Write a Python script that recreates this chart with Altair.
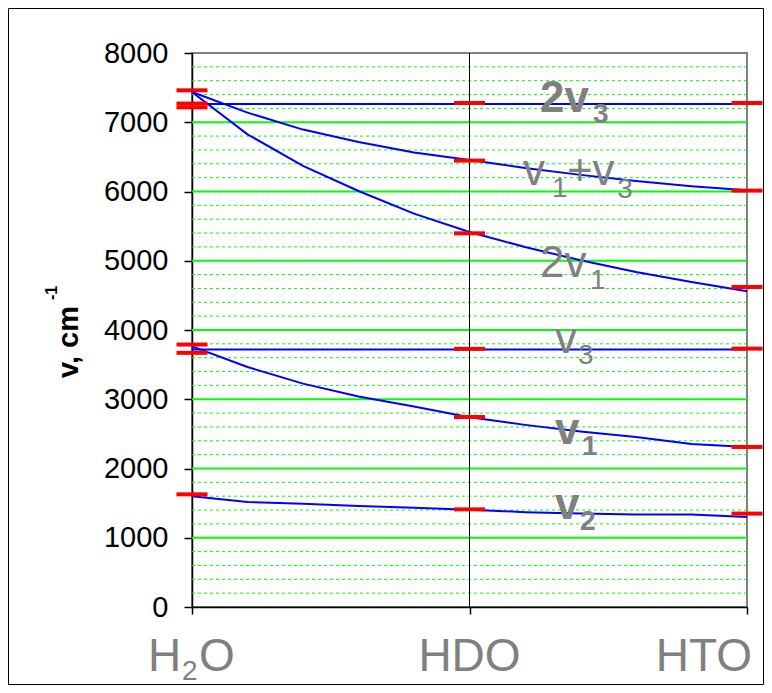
import altair as alt
import pandas as pd

# ---------------- data ----------------
t_pos = [0.0, 0.2, 0.4, 0.6, 0.8, 1.0, 1.2, 1.4, 1.6, 1.8, 2.0]
s_2v3 = [7265, 7265, 7265, 7265, 7265, 7265, 7265, 7265, 7265, 7265, 7265]
s_v1v3 = [7437, 7139, 6894, 6715, 6562, 6455, 6340, 6240, 6150, 6075, 6017]
s_2v1 = [7437, 6826, 6370, 6007, 5681, 5415, 5199, 5006, 4838, 4693, 4560]
s_v3 = [3718, 3718, 3718, 3718, 3718, 3718, 3718, 3718, 3718, 3718, 3718]
s_v1 = [3763, 3466, 3226, 3040, 2895, 2740, 2630, 2535, 2455, 2355, 2310]
s_v2 = [1599, 1516, 1490, 1460, 1432, 1406, 1370, 1350, 1337, 1334, 1300]

mol_t = [0, 1, 2]
mol_names = ["H2O", "HDO", "HTO"]
red_h2o = [7461, 7270, 7215, 3790, 3670, 1627]
red_hdo = [7278, 6446, 5396, 3728, 2744, 1410]
red_hto = [7278, 6013, 4621, 3731, 2311, 1349]

y_ticks = [0, 1000, 2000, 3000, 4000, 5000, 6000, 7000, 8000]
major_grid = [1000, 2000, 3000, 4000, 5000, 6000, 7000]
minor_grid = [v for v in range(200, 8000, 200) if v % 1000 != 0]

# label pieces: (text, t, value)
big_normal = [("v", 1.193, 6089), ("+v", 1.351, 6089), ("2v", 1.254, 4765), ("v", 1.308, 3664)]
sub_normal = [("1", 1.297, 5917), ("3", 1.532, 5902), ("1", 1.434, 4598), ("3", 1.391, 3505)]
big_bold = [("2v", 1.254, 7141), ("v", 1.308, 2360), ("v", 1.308, 1277)]
sub_bold = [("3", 1.445, 6982), ("1", 1.405, 2191), ("2", 1.398, 1108)]

W, H = 555, 554
FONT = "Liberation Sans"
GRAY = "#808080"

xs = alt.Scale(domain=[0, 2], nice=False, zero=False)
ys = alt.Scale(domain=[0, 8000], nice=False, zero=False)

AX_X = alt.Axis(values=mol_t, labels=False, title=None, grid=False,
                tickSize=7, tickColor="black", tickWidth=1.5,
                domainColor="black", domainWidth=1.5)
AX_Y = alt.Axis(values=y_ticks, format="d", title=None, grid=False,
                labelFont=FONT, labelFontSize=29, labelColor="black",
                labelPadding=16, tickSize=8, tickColor="black",
                tickWidth=1.5, domainColor="black", domainWidth=1.5)


def X(field):
    return alt.X(field, scale=xs, axis=AX_X)


def Y(field):
    return alt.Y(field, scale=ys, axis=AX_Y)


# ---------------- tables ----------------
series = {"2v3": s_2v3, "v1+v3": s_v1v3, "2v1": s_2v1, "v3": s_v3, "v1": s_v1, "v2": s_v2}
lines_df = pd.DataFrame(
    [{"series": k, "t": t, "v": v} for k, vals in series.items() for t, v in zip(t_pos, vals)]
)
red_df = pd.DataFrame(
    [{"t": mol_t[i], "v": v} for i, vals in enumerate([red_h2o, red_hdo, red_hto]) for v in vals]
)
major_df = pd.DataFrame({"v": major_grid})
minor_df = pd.DataFrame({"v": minor_grid})
axis_df = pd.DataFrame({"v": y_ticks, "t": [0] * len(y_ticks)})
hdo_df = pd.DataFrame({"t": [mol_t[1]], "v": [0], "y1": [8000]})
one = pd.DataFrame({"a": [0]})


def lab_df(items):
    return pd.DataFrame([{"text": a, "t": b, "v": c} for a, b, c in items])


# ---------------- layers ----------------
axes_layer = alt.Chart(axis_df).mark_point(opacity=0).encode(x=X("t:Q"), y=Y("v:Q"))

minor_layer = alt.Chart(minor_df).mark_rule(color="#00FF00", strokeWidth=1, strokeDash=[3, 3]).encode(
    y=Y("v:Q")
)
major_layer = alt.Chart(major_df).mark_rule(color="#00FF00", strokeWidth=2).encode(
    y=Y("v:Q")
)
hdo_layer = alt.Chart(hdo_df).mark_rule(color="black", strokeWidth=1).encode(
    x=X("t:Q"), y=Y("v:Q"), y2="y1:Q"
)
line_layer = alt.Chart(lines_df).mark_line(color="#0000FF", strokeWidth=2).encode(
    x=X("t:Q"), y=Y("v:Q"), detail="series:N"
)
red_layer = alt.Chart(red_df).mark_tick(color="#FF0000", orient="horizontal", size=31,
                                          thickness=4, opacity=1).encode(
    x=X("t:Q"), y=Y("v:Q")
)


def text_layer(items, size, weight):
    return alt.Chart(lab_df(items)).mark_text(
        font=FONT, fontSize=size, fontWeight=weight, color=GRAY, align="left", baseline="alphabetic"
    ).encode(x=X("t:Q"), y=Y("v:Q"), text="text:N")


lab_layers = [
    text_layer(big_normal, 44, "normal"),
    text_layer(sub_normal, 28, "normal"),
    text_layer(big_bold, 44, "bold"),
    text_layer(sub_bold, 28, "bold"),
]

# x category labels
xl_df = pd.DataFrame({"t": mol_t})


def xlab(text, idx, dx, align, size, dy=0):
    return alt.Chart(xl_df.iloc[[idx]]).mark_text(
        text=text, font=FONT, fontSize=size, color=GRAY, align=align, baseline="alphabetic", dx=dx
    ).encode(x=X("t:Q"), y=alt.value(618 + dy))


xlabels = [
    xlab("H", 0, -44, "left", 46),
    xlab("2", 0, -10, "left", 28, 9),
    xlab("O", 0, 7, "left", 46),
    xlab(mol_names[1], 1, 0, "center", 46),
    xlab(mol_names[2], 2, 5, "right", 46),
]

# y title with superscript
ytitle = alt.Chart(one).mark_text(
    text="v, cm", font=FONT, fontSize=29, fontWeight="bold", color="black",
    angle=270, align="center", baseline="alphabetic"
).encode(x=alt.value(-114), y=alt.value(289))
ysup = alt.Chart(one).mark_text(
    text="-1", font=FONT, fontSize=16, fontWeight="bold", color="black",
    angle=270, align="center", baseline="alphabetic"
).encode(x=alt.value(-135), y=alt.value(240))

frame = alt.Chart(one).mark_rect(fill=None, stroke="black", strokeWidth=1).encode(
    x=alt.value(-183.5), x2=alt.value(571.5), y=alt.value(-44.5), y2=alt.value(631.5)
)

chart = alt.layer(
    axes_layer, minor_layer, major_layer, hdo_layer, line_layer, red_layer,
    *lab_layers, *xlabels, ytitle, ysup, frame
).properties(
    width=W, height=H,
    autosize=alt.AutoSizeParams(type="none"),
    padding={"left": 184, "top": 45, "right": 17, "bottom": 78},
).configure_view(stroke=GRAY, strokeWidth=2)

chart.save("out.html", embed_options={"renderer": "svg", "actions": False})
